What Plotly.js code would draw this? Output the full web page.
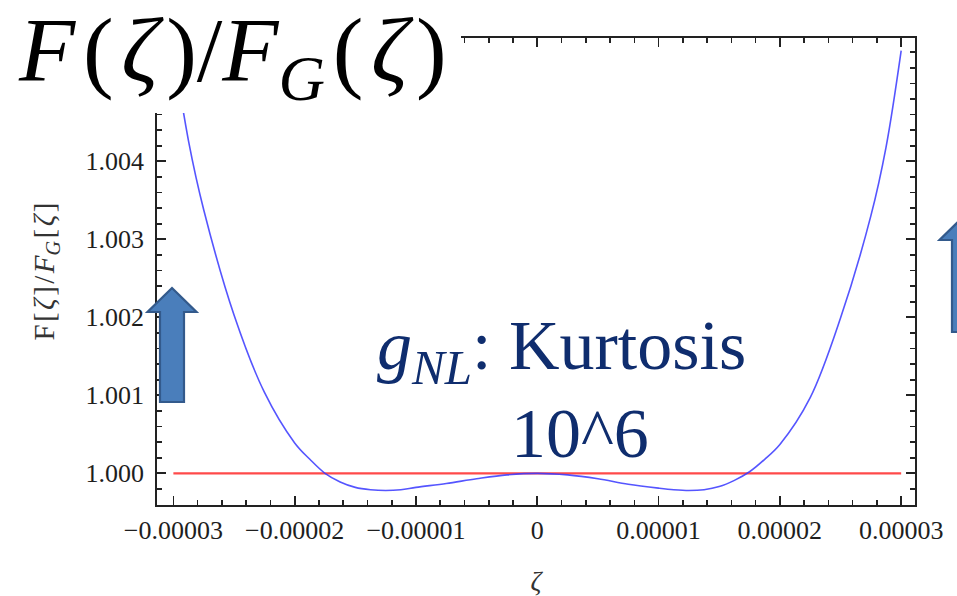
<!DOCTYPE html>
<html>
<head>
<meta charset="utf-8">
<script src="https://cdn.plot.ly/plotly-3.0.1.min.js"></script>
<style>
  html, body { margin: 0; padding: 0; background: #ffffff; }
  #chart { width: 957px; height: 596px; }
</style>
</head>
<body>
<div id="chart"></div>
<script>
// Ratio of the non-Gaussian PDF to the Gaussian one, F(ζ)/F_G(ζ)
const zeta = [
  -3.000e-5, -2.875e-5, -2.750e-5, -2.500e-5, -2.250e-5, -2.000e-5,
  -1.875e-5, -1.750e-5, -1.625e-5, -1.500e-5, -1.375e-5, -1.250e-5,
  -1.125e-5, -1.000e-5, -0.750e-5, -0.500e-5, -0.250e-5, 0,
  0.250e-5, 0.500e-5, 0.750e-5, 1.000e-5, 1.125e-5, 1.250e-5,
  1.375e-5, 1.500e-5, 1.625e-5, 1.750e-5, 1.875e-5, 2.000e-5,
  2.250e-5, 2.500e-5, 2.750e-5, 2.875e-5, 3.000e-5
];
const ratio = [
  1.00545, 1.00426, 1.00338, 1.00203, 1.00104, 1.00039,
  1.00018, 1.00000, 0.99989, 0.99982, 0.99979, 0.99978,
  0.99979, 0.99982, 0.99987, 0.99993, 0.99998, 1.00000,
  0.99998, 0.99993, 0.99986, 0.99981, 0.99979, 0.99978,
  0.99979, 0.99983, 0.99991, 1.00002, 1.00018, 1.00037,
  1.00097, 1.00199, 1.00330, 1.00418, 1.00542
];

// Gaussian reference level
const refZeta = [-3e-5, 3e-5];
const refRatio = [1, 1];

// Tick labels
const xTickVals = [-3e-5, -2e-5, -1e-5, 0, 1e-5, 2e-5, 3e-5];
const xTickText = ['\u22120.00003', '\u22120.00002', '\u22120.00001', '0', '0.00001', '0.00002', '0.00003'];
const yTickVals = [1.000, 1.001, 1.002, 1.003, 1.004];
const yTickText = ['1.000', '1.001', '1.002', '1.003', '1.004'];

// Page geometry (pixels) of the plotting frame
const W = 957, H = 596;
const M = { l: 157, r: 42, t: 38, b: 91 };
const PW = W - M.l - M.r, PH = H - M.t - M.b;
const px = x => (x - M.l) / PW;            // pixel x -> paper x
const py = y => (H - M.b - y) / PH;        // pixel y -> paper y

function blockArrow(cx, tipY, headBaseY, bottomY, headHalf, shaftHalf) {
  const pts = [
    [cx, tipY], [cx + headHalf, headBaseY], [cx + shaftHalf, headBaseY],
    [cx + shaftHalf, bottomY], [cx - shaftHalf, bottomY],
    [cx - shaftHalf, headBaseY], [cx - headHalf, headBaseY]
  ];
  return 'M ' + pts.map(p => px(p[0]).toFixed(5) + ',' + py(p[1]).toFixed(5)).join(' L ') + ' Z';
}

const serif = 'Liberation Serif, Times New Roman, serif';
const navy = '#0f2d6e';
const hs = '\u200A';   // hair space, loosens the math-style spacing

const traces = [
  {
    x: refZeta, y: refRatio, type: 'scatter', mode: 'lines',
    line: { color: '#ff4a4a', width: 2.2 }, hoverinfo: 'skip'
  },
  {
    x: zeta, y: ratio, type: 'scatter', mode: 'lines',
    line: { color: 'rgba(55,55,255,0.85)', width: 1.6, shape: 'spline', smoothing: 1 },
    hoverinfo: 'skip'
  }
];

const axisCommon = {
  showgrid: false, zeroline: false,
  showline: true, linecolor: '#222222', linewidth: 1.8,
  mirror: 'allticks', ticks: 'inside', ticklen: 9, tickwidth: 1.7, tickcolor: '#222222',
  tickfont: { family: serif, size: 26, color: '#1e1e1e' }
};

const minorTicks = { ticks: 'inside', ticklen: 5, tickwidth: 1.6, tickcolor: '#222222' };

const layout = {
  width: W, height: H,
  margin: M,
  paper_bgcolor: '#ffffff', plot_bgcolor: '#ffffff',
  showlegend: false,
  xaxis: Object.assign({}, axisCommon, {
    range: [-3.135e-5, 3.114e-5],
    tickmode: 'array', tickvals: xTickVals, ticktext: xTickText,
    minor: Object.assign({ tickmode: 'linear', tick0: 0, dtick: 2e-6 }, minorTicks),
    ticklabelstandoff: 1,
    title: { text: '<i>ζ</i>', font: { family: serif, size: 27, color: '#333' }, standoff: 28 }
  }),
  yaxis: Object.assign({}, axisCommon, {
    range: [0.999594, 1.005581],
    tickmode: 'array', tickvals: yTickVals, ticktext: yTickText,
    minor: Object.assign({ tickmode: 'linear', tick0: 1, dtick: 0.0002 }, minorTicks),
    ticklabelstandoff: 6,
    title: {
      text: 'F' + hs + '[' + hs + '<i>ζ</i>' + hs + ']' + hs + '/' + hs + '<i>F</i><sub><i>G</i></sub>' + hs + '[' + hs + '<i>ζ</i>' + hs + ']',
      font: { family: serif, size: 29, color: '#333' }, standoff: 22
    }
  }),
  shapes: [
    // white panel behind the large heading
    { type: 'rect', xref: 'paper', yref: 'paper', layer: 'above',
      x0: px(-5), x1: px(461), y0: py(113), y1: py(-5),
      fillcolor: '#ffffff', line: { width: 0 } },
    // up arrows
    { type: 'path', xref: 'paper', yref: 'paper', layer: 'above',
      path: blockArrow(172, 288, 312, 402, 24.5, 12),
      fillcolor: '#4a7ebb', line: { color: '#335a8c', width: 2.2 } },
    { type: 'path', xref: 'paper', yref: 'paper', layer: 'above',
      path: blockArrow(964, 216, 240, 332, 24.5, 12),
      fillcolor: '#4a7ebb', line: { color: '#335a8c', width: 2.2 } }
  ],
  annotations: [
    { xref: 'paper', yref: 'paper', x: px(16), y: py(57), xanchor: 'left', yanchor: 'middle',
      showarrow: false,
      text: '<i>F</i>' + hs + '(' + hs + '<i>ζ</i>' + hs + ')/<i>F</i><sub><i>G</i></sub>' + hs + '(' + hs + '<i>ζ</i>' + hs + ')',
      font: { family: serif, size: 92, color: '#000000' } },
    { xref: 'paper', yref: 'paper', x: px(561), y: py(351), xanchor: 'center', yanchor: 'middle',
      showarrow: false,
      text: '<i>g</i><sub><i>NL</i></sub>: Kurtosis',
      font: { family: serif, size: 70, color: navy } },
    { xref: 'paper', yref: 'paper', x: px(580), y: py(433), xanchor: 'center', yanchor: 'middle',
      showarrow: false,
      text: '10^6',
      font: { family: serif, size: 70, color: navy } }
  ]
};

Plotly.newPlot('chart', traces, layout, { displayModeBar: false, staticPlot: true });
</script>
</body>
</html>
